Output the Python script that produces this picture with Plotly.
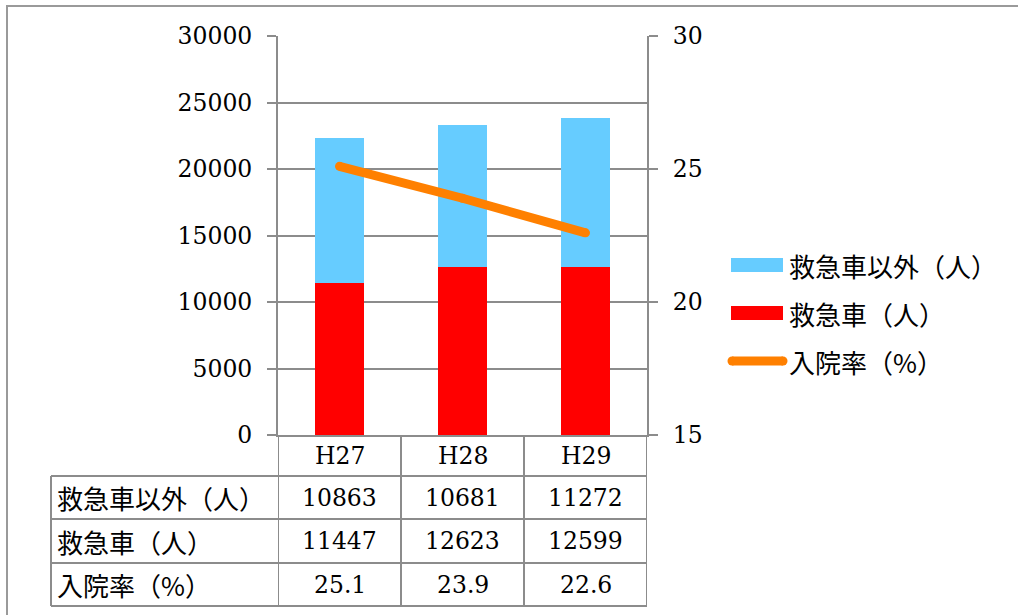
import plotly.graph_objects as go

# ---- data ----
categories = ["H27", "H28", "H29"]
non_ambulance = [10863, 10681, 11272]      # 救急車以外（人）
ambulance = [11447, 12623, 12599]          # 救急車（人）
admission_rate = [25.1, 23.9, 22.6]        # 入院率（%）
series_names = ["救急車以外（人）", "救急車（人）", "入院率（%）"]
left_ticks = [0, 5000, 10000, 15000, 20000, 25000, 30000]
left_tick_labels = ["0", "5000", "10000", "15000", "20000", "25000", "30000"]
right_ticks = [15, 20, 25, 30]
right_tick_labels = ["15", "20", "25", "30"]

# ---- style / layout ----
FIG_W, FIG_H = 1018, 615
L, R, T, B = 278, 647, 36, 435
GRAY = "#8c8c8c"
C_BLUE, C_RED, C_ORANGE = "#66CCFF", "#FF0000", "#FF8000"
NUM_FONT = dict(family="DejaVu Serif", size=23.5, color="black")
JP_FONT = dict(family="Noto Sans CJK JP", size=26, color="black")


def px(xp):
    return (xp - L) / (R - L)


def py(yp):
    return (B - yp) / (B - T)


fig = go.Figure()
fig.add_bar(x=categories, y=ambulance, name=series_names[1],
            marker=dict(color=C_RED, line=dict(width=0)), width=0.4)
fig.add_bar(x=categories, y=non_ambulance, name=series_names[0],
            marker=dict(color=C_BLUE, line=dict(width=0)), width=0.4)
fig.add_scatter(x=categories, y=admission_rate, name=series_names[2], yaxis="y2",
                mode="lines+markers", line=dict(color=C_ORANGE, width=9),
                marker=dict(color=C_ORANGE, size=9))

shapes = []
annotations = []

# outer border
shapes.append(dict(type="rect", xref="paper", yref="paper",
                   x0=px(7), x1=px(1040), y0=py(6), y1=py(640),
                   line=dict(color="#9a9a9a", width=2), layer="below"))

# table grid
row_lines = [476, 519, 563, 606]
col_bounds = [-0.5, 0.5, 1.5, 2.5]
for xb in col_bounds:
    shapes.append(dict(type="line", xref="x", yref="paper", x0=xb, x1=xb,
                       y0=py(B), y1=py(row_lines[-1]), line=dict(color=GRAY, width=2)))
shapes.append(dict(type="line", xref="paper", yref="paper", x0=px(51), x1=px(51),
                   y0=py(row_lines[0]), y1=py(row_lines[-1]), line=dict(color=GRAY, width=2)))
for yl in row_lines:
    shapes.append(dict(type="line", xref="paper", yref="paper", x0=px(51), x1=px(R),
                       y0=py(yl), y1=py(yl), line=dict(color=GRAY, width=2)))

# header row
for i, c in enumerate(categories):
    annotations.append(dict(x=i, y=py((B + row_lines[0]) / 2), xref="x", yref="paper",
                            text=c, showarrow=False, font=NUM_FONT,
                            xanchor="center", yanchor="middle"))

rows = [
    (series_names[0], [str(v) for v in non_ambulance]),
    (series_names[1], [str(v) for v in ambulance]),
    (series_names[2], [f"{v:.1f}" for v in admission_rate]),
]
for r, (label, vals) in enumerate(rows):
    yc = py((row_lines[r] + row_lines[r + 1]) / 2)
    annotations.append(dict(x=px(55), y=yc, xref="paper", yref="paper", text=label,
                            showarrow=False, font=JP_FONT, xanchor="left", yanchor="middle"))
    for i, v in enumerate(vals):
        annotations.append(dict(x=i, y=yc, xref="x", yref="paper", text=v,
                                showarrow=False, font=NUM_FONT,
                                xanchor="center", yanchor="middle"))

# custom legend
leg_y = [265, 313, 361]
for yc, color in zip(leg_y[:2], [C_BLUE, C_RED]):
    shapes.append(dict(type="rect", xref="paper", yref="paper",
                       x0=px(731), x1=px(783), y0=py(yc - 7), y1=py(yc + 7),
                       fillcolor=color, line=dict(width=0)))
shapes.append(dict(type="line", xref="paper", yref="paper",
                   x0=px(732), x1=px(783), y0=py(leg_y[2]), y1=py(leg_y[2]),
                   line=dict(color=C_ORANGE, width=9)))
for xe in [732, 783]:
    shapes.append(dict(type="circle", xref="paper", yref="paper",
                       xsizemode="pixel", ysizemode="pixel",
                       xanchor=px(xe), yanchor=py(leg_y[2]),
                       x0=-4.5, x1=4.5, y0=-4.5, y1=4.5,
                       fillcolor=C_ORANGE, line=dict(width=0)))
for yc, name in zip(leg_y, series_names):
    annotations.append(dict(x=px(787), y=py(yc), xref="paper", yref="paper", text=name,
                            showarrow=False, font=JP_FONT, xanchor="left", yanchor="middle"))

fig.update_layout(
    width=FIG_W, height=FIG_H,
    margin=dict(l=L, r=FIG_W - R, t=T, b=FIG_H - B, pad=0),
    paper_bgcolor="white", plot_bgcolor="white",
    barmode="stack", showlegend=False,
    shapes=shapes, annotations=annotations,
    xaxis=dict(range=[-0.5, 2.5], showticklabels=False, ticks="", showgrid=False,
               showline=True, linecolor=GRAY, linewidth=2, zeroline=False, fixedrange=True),
    yaxis=dict(range=[0, 30000], tickvals=left_ticks, ticktext=left_tick_labels,
               ticks="outside", ticklen=9,
               tickcolor=GRAY, tickwidth=2, showline=True, linecolor=GRAY, linewidth=2,
               showgrid=True, gridcolor=GRAY, gridwidth=1.5, zeroline=False,
               tickfont=NUM_FONT, ticklabelstandoff=10),
    yaxis2=dict(range=[15, 30], tickvals=right_ticks, ticktext=right_tick_labels,
                overlaying="y", side="right",
                ticks="outside", ticklen=9, tickcolor=GRAY, tickwidth=2,
                showline=True, linecolor=GRAY, linewidth=2, showgrid=False,
                zeroline=False, tickfont=NUM_FONT, ticklabelstandoff=10),
)

fig.write_html("out.html", config={"displayModeBar": False},
               post_script="document.body.style.margin='0';")
